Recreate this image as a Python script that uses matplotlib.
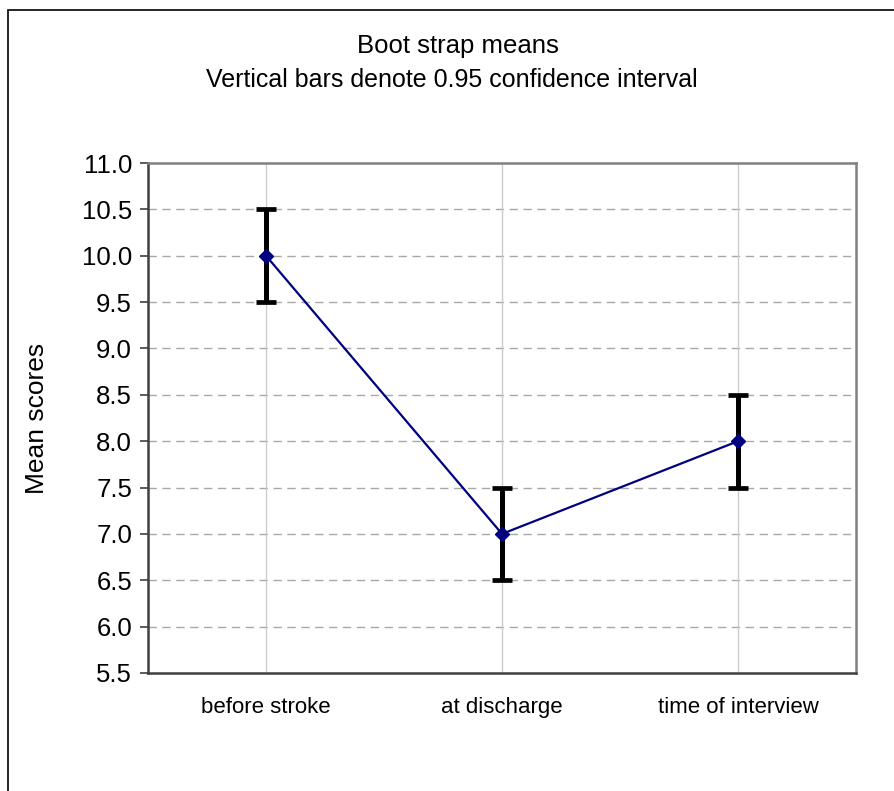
import matplotlib.pyplot as plt
from matplotlib.patches import Rectangle

plt.rcParams['font.family'] = ['Liberation Sans', 'DejaVu Sans']

categories = ['before stroke', 'at discharge', 'time of interview']
means = [10.0, 7.0, 8.0]
ci_half = [0.5, 0.5, 0.5]
yticks = [5.5, 6.0, 6.5, 7.0, 7.5, 8.0, 8.5, 9.0, 9.5, 10.0, 10.5, 11.0]

W, H = 895, 791
fig = plt.figure(figsize=(W / 100, H / 100), dpi=100)

# outer chart frame (runs off the right and bottom edges)
fig.patches.append(Rectangle((8 / W, -0.1), 1.0, 1 - 10 / H + 0.1,
                             transform=fig.transFigure, fill=False,
                             edgecolor='black', linewidth=1.2))

ax = fig.add_axes([148 / W, 1 - 673 / H, (856 - 148) / W, (673 - 163) / H])
x = list(range(len(categories)))

for yv in yticks[1:-1]:
    ax.axhline(yv, color='#a8a8a8', linewidth=1.0, linestyle=(0, (6, 4)), zorder=0)
for xv in x:
    ax.axvline(xv, color='#cccccc', linewidth=1.0, zorder=0)

ax.errorbar(x, means, yerr=ci_half, fmt='none', ecolor='black', elinewidth=3.6,
            capsize=7.2, capthick=3.4, zorder=2)
ax.plot(x, means, color='#000080', linewidth=1.6, marker='D', markersize=7,
        markerfacecolor='#000080', markeredgecolor='#000080', zorder=3)

ax.set_xlim(-0.5, 2.5)
ax.set_ylim(5.5, 11.0)
ax.set_yticks(yticks)
ax.set_yticklabels([f'{v:.1f}' for v in yticks], fontsize=18.5)
ax.set_xticks(x)
ax.set_xticklabels(categories, fontsize=16)
ax.tick_params(axis='x', length=0, pad=17)
ax.tick_params(axis='y', direction='out', length=5.5, width=1.2, color='#404040', pad=6)

for side in ['left', 'bottom']:
    ax.spines[side].set_color('#404040')
    ax.spines[side].set_linewidth(1.8)
for side in ['top', 'right']:
    ax.spines[side].set_color('#808080')
    ax.spines[side].set_linewidth(1.8)

ax.set_ylabel('Mean scores', fontsize=19)
ax.yaxis.set_label_coords(49 / W, 1 - 418 / H, transform=fig.transFigure)

fig.text(458 / W, 1 - 46 / H, 'Boot strap means', ha='center', va='center', fontsize=18.5)
fig.text(452 / W, 1 - 80 / H, 'Vertical bars denote 0.95 confidence interval',
         ha='center', va='center', fontsize=18)

fig.savefig('out.png', dpi=100)
